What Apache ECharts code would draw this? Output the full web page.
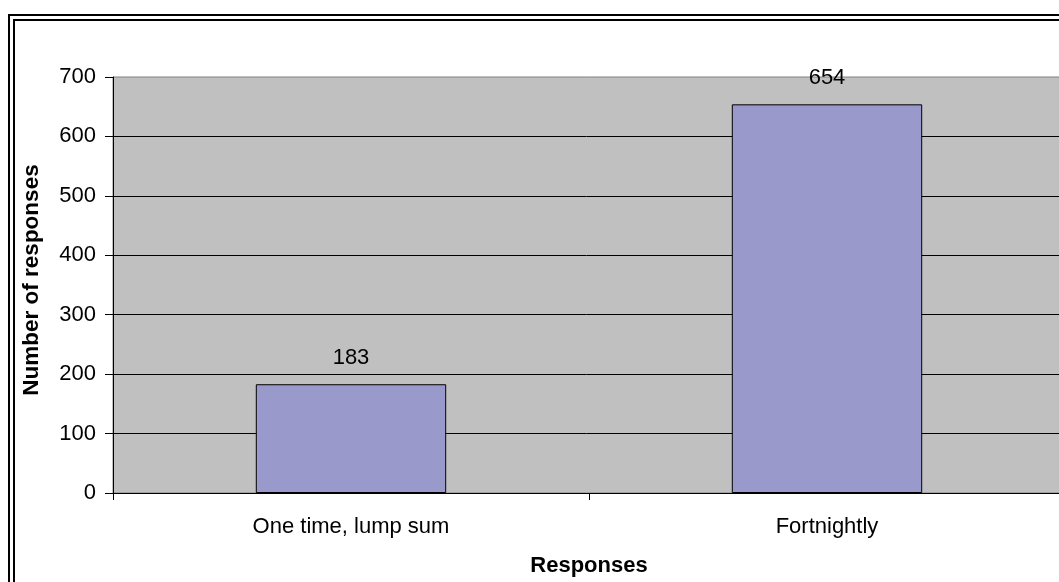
<!DOCTYPE html>
<html>
<head>
<meta charset="utf-8">
<script src="https://cdn.jsdelivr.net/npm/echarts@6/dist/echarts.min.js"></script>
<style>
html,body{margin:0;padding:0;background:#fff;overflow:hidden;}
#chart{width:1059px;height:582px;}
</style>
</head>
<body>
<div id="chart"></div>
<script>
const categories = ['One time, lump sum', 'Fortnightly'];
const responses = [183, 654];
const yTicks = [0, 100, 200, 300, 400, 500, 600, 700];

const FONT = '"Liberation Sans", Arial, sans-serif';
const chart = echarts.init(document.getElementById('chart'), null, {renderer: 'canvas'});
chart.setOption({
  animation: false,
  backgroundColor: '#ffffff',
  textStyle: {fontFamily: FONT},
  graphic: [
    {type: 'rect', shape: {x: 9, y: 15, width: 3000, height: 3000}, style: {fill: 'none', stroke: '#000', lineWidth: 2}, silent: true},
    {type: 'rect', shape: {x: 14, y: 20, width: 3000, height: 3000}, style: {fill: 'none', stroke: '#000', lineWidth: 2}, silent: true}
  ],
  grid: {
    left: 113, top: 77, width: 952, height: 416,
    outerBoundsMode: 'none',
    show: true, backgroundColor: '#C0C0C0', borderColor: '#808080', borderWidth: 1,
    containLabel: false
  },
  xAxis: {
    type: 'category',
    data: categories,
    boundaryGap: true,
    name: 'Responses',
    nameLocation: 'middle',
    nameGap: 62,
    nameTextStyle: {fontSize: 22, fontWeight: 'bold', color: '#000', fontFamily: FONT},
    axisLine: {lineStyle: {color: '#000', width: 1}},
    axisTick: {show: true, alignWithLabel: false, length: 7, lineStyle: {color: '#000'}},
    axisLabel: {fontSize: 22, color: '#000', margin: 23, fontFamily: FONT},
    splitLine: {show: false}
  },
  yAxis: {
    type: 'value',
    min: yTicks[0],
    max: yTicks[yTicks.length - 1],
    interval: 100,
    name: 'Number of responses',
    nameLocation: 'middle',
    nameGap: 70,
    nameTextStyle: {fontSize: 22.5, fontWeight: 'bold', color: '#000', fontFamily: FONT, padding: [0, 0, 0, 10]},
    axisLine: {show: true, lineStyle: {color: '#000', width: 1}},
    axisTick: {show: true, length: 8, lineStyle: {color: '#000'}},
    axisLabel: {fontSize: 22, color: '#000', margin: 17, fontFamily: FONT},
    splitLine: {show: true, showMaxLine: false, lineStyle: {color: '#000', width: 1}}
  },
  series: [{
    type: 'bar',
    data: responses,
    barCategoryGap: '60%',
    itemStyle: {color: '#9999CC', borderColor: '#000', borderWidth: 1},
    label: {show: true, position: 'top', distance: 15, fontSize: 22, color: '#000', fontFamily: FONT}
  }]
});
</script>
</body>
</html>
